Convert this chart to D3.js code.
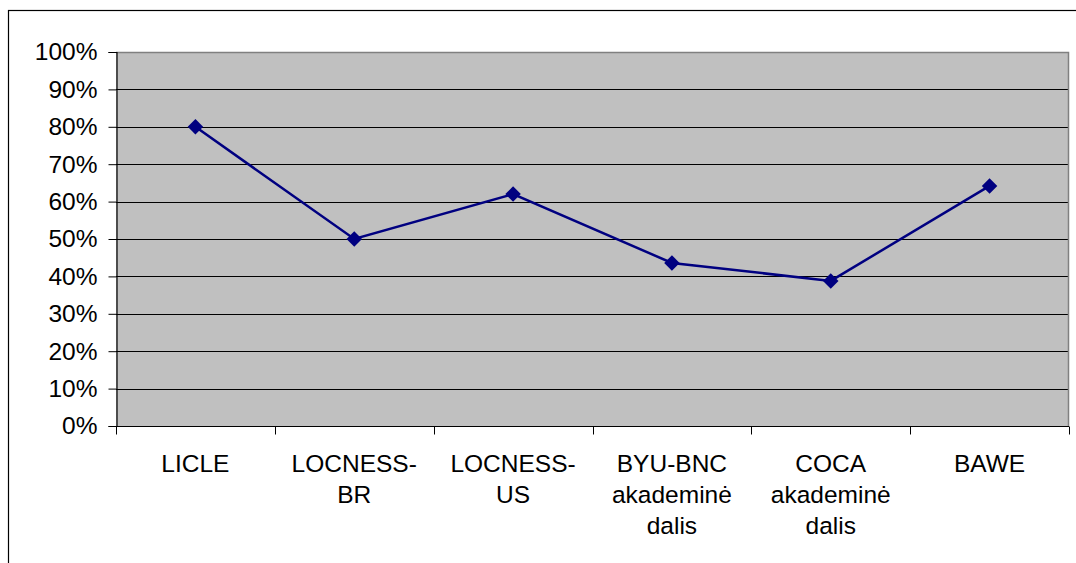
<!DOCTYPE html>
<html><head><meta charset="utf-8">
<script src="https://cdn.jsdelivr.net/npm/d3@7"></script>
<style>html,body{margin:0;padding:0;background:#fff;overflow:hidden}</style>
</head><body>
<script>
const categories = [["LICLE"],["LOCNESS-","BR"],["LOCNESS-","US"],["BYU-BNC","akademinė","dalis"],["COCA","akademinė","dalis"],["BAWE"]];
const values = [0.80, 0.50, 0.62, 0.436, 0.388, 0.642];
const yTicks = [0,0.1,0.2,0.3,0.4,0.5,0.6,0.7,0.8,0.9,1.0];

const W=1076,H=563;
const svg=d3.select("body").append("svg").attr("width",W).attr("height",H);
const font="'Liberation Sans', Arial, sans-serif";
const fs=24.5;
// outer frame
svg.append("rect").attr("x",8.5).attr("y",10.5).attr("width",1100).attr("height",600)
  .attr("fill","#fff").attr("stroke","#000").attr("stroke-width",1.2);

const L=116,R=1069,T=52,B=426;
const keys=categories.map((c,i)=>i);
const x=d3.scaleBand().domain(keys).range([L,R]);
const y=d3.scaleLinear().domain([0,1]).range([B,T]);

svg.append("rect").attr("x",L).attr("y",T).attr("width",R-L).attr("height",B-T).attr("fill","#c0c0c0");
// gridlines
svg.append("g").selectAll("line").data(yTicks.filter(d=>d>0&&d<1)).join("line")
  .attr("x1",L).attr("x2",R).attr("y1",d=>Math.round(y(d))+0.5).attr("y2",d=>Math.round(y(d))+0.5)
  .attr("stroke","#000").attr("stroke-width",1);
// top and right border gray
svg.append("path").attr("d",`M${L},${T+0.5}H${R-0.5}V${B}`).attr("fill","none").attr("stroke","#808080").attr("stroke-width",1.5);

// y axis
const yAxis=d3.axisLeft(y).tickValues(yTicks).tickFormat(d3.format(".0%")).tickSize(8).tickPadding(11);
const ya=svg.append("g").attr("transform",`translate(${L+0.5},0)`).call(yAxis);
ya.select(".domain").attr("stroke","#000").attr("stroke-width",1.2);
ya.selectAll(".tick line").attr("stroke","#000");
ya.selectAll("text").attr("font-family",font).attr("font-size",fs).attr("fill","#000");

// x axis
const xa=svg.append("g").attr("transform",`translate(0,${B+0.5})`);
xa.append("line").attr("x1",L).attr("x2",R).attr("stroke","#000").attr("stroke-width",1.2);
const bounds=keys.map(k=>x(k)).concat([x(keys[keys.length-1])+x.bandwidth()]);
xa.selectAll("line.tk").data(bounds).join("line").attr("class","tk")
  .attr("x1",d=>Math.round(d)+0.5).attr("x2",d=>Math.round(d)+0.5).attr("y1",0).attr("y2",8).attr("stroke","#000");
const lbl=xa.selectAll("text").data(categories).join("text")
  .attr("x",(d,i)=>x(i)+x.bandwidth()/2).attr("y",45)
  .attr("text-anchor","middle").attr("font-family",font).attr("font-size",fs).attr("fill","#000");
lbl.selectAll("tspan").data(d=>d).join("tspan")
  .attr("x",function(){return this.parentNode.getAttribute("x");})
  .attr("dy",(d,i)=>i===0?0:31).text(d=>d);

// line
const cx=i=>x(i)+x.bandwidth()/2;
svg.append("path").datum(values).attr("fill","none").attr("stroke","#000080").attr("stroke-width",2.5)
  .attr("d",d3.line().x((d,i)=>cx(i)).y(d=>y(d)));
svg.append("g").selectAll("path").data(values).join("path")
  .attr("d",d3.symbol(d3.symbolSquare,120))
  .attr("transform",(d,i)=>`translate(${cx(i)},${y(d)}) rotate(45)`)
  .attr("fill","#000080");
</script>
</body></html>
